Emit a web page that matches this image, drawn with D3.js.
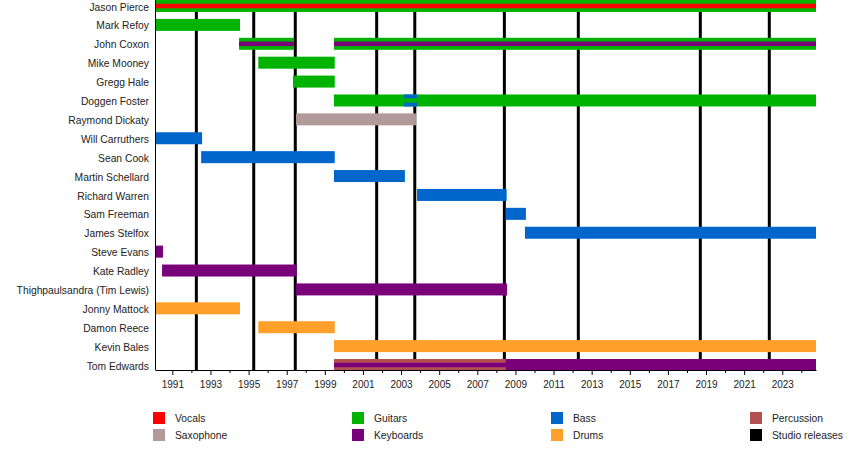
<!DOCTYPE html>
<html>
<head>
<meta charset="utf-8">
<script src="https://cdn.jsdelivr.net/npm/d3@7"></script>
<style>
  html, body { margin: 0; padding: 0; background: #fff; }
  svg { display: block; font-family: "Liberation Sans", Arial, sans-serif; }
</style>
</head>
<body>
<svg id="chart" width="850" height="450"></svg>
<script>
// ---------- DATA ----------
const members = [
  "Jason Pierce", "Mark Refoy", "John Coxon", "Mike Mooney", "Gregg Hale",
  "Doggen Foster", "Raymond Dickaty", "Will Carruthers", "Sean Cook",
  "Martin Schellard", "Richard Warren", "Sam Freeman", "James Stelfox",
  "Steve Evans", "Kate Radley", "Thighpaulsandra (Tim Lewis)", "Jonny Mattock",
  "Damon Reece", "Kevin Bales", "Tom Edwards"
];
const legendItems = ["Vocals", "Saxophone", "Guitars", "Keyboards", "Bass", "Drums", "Percussion", "Studio releases"];
const timelineStart = 1990.09;
const timelineEnd = 2024.77;
// [member, role, start, end] (decimal years)
const mainBars = [
  ["Jason Pierce", "Guitars", 1990.09, 2024.77],
  ["Mark Refoy", "Guitars", 1990.09, 1994.55],
  ["John Coxon", "Guitars", 1994.50, 1997.38],
  ["John Coxon", "Guitars", 1999.48, 2024.77],
  ["Mike Mooney", "Guitars", 1995.51, 1999.52],
  ["Gregg Hale", "Guitars", 1997.33, 1999.52],
  ["Doggen Foster", "Guitars", 1999.48, 2024.77],
  ["Doggen Foster", "Bass", 2003.15, 2003.85],
  ["Raymond Dickaty", "Saxophone", 1997.49, 2003.78],
  ["Will Carruthers", "Bass", 1990.09, 1992.56],
  ["Sean Cook", "Bass", 1992.51, 1999.52],
  ["Martin Schellard", "Bass", 1999.48, 2003.20],
  ["Richard Warren", "Bass", 2003.84, 2008.54],
  ["Sam Freeman", "Bass", 2008.49, 2009.55],
  ["James Stelfox", "Bass", 2009.50, 2024.77],
  ["Steve Evans", "Keyboards", 1990.09, 1990.51],
  ["Kate Radley", "Keyboards", 1990.46, 1997.52],
  ["Thighpaulsandra (Tim Lewis)", "Keyboards", 1997.47, 2008.56],
  ["Jonny Mattock", "Drums", 1990.09, 1994.55],
  ["Damon Reece", "Drums", 1995.51, 1999.52],
  ["Kevin Bales", "Drums", 1999.48, 2024.77],
  ["Tom Edwards", "Percussion", 1999.48, 2008.50],
  ["Tom Edwards", "Keyboards", 2008.50, 2024.77]
];
// secondary roles, drawn as thin stripes inside the main bar
const stripeBars = [
  ["Jason Pierce", "Vocals", 1990.09, 2024.77],
  ["John Coxon", "Keyboards", 1994.50, 1997.38],
  ["John Coxon", "Keyboards", 1999.48, 2024.77],
  ["Doggen Foster", "Guitars", 2003.15, 2003.85],
  ["Tom Edwards", "Keyboards", 1999.48, 2008.50]
];
// studio albums release dates
const studioReleases = [1992.26, 1995.27, 1997.45, 2001.72, 2003.72, 2008.42, 2012.30, 2018.70, 2022.32];
const yearTicks = d3.range(1991, 2025);

// ---------- STYLE ----------
const colors = {
  "Vocals": "#ff0000",
  "Saxophone": "#b39a9a",
  "Guitars": "#00b300",
  "Keyboards": "#7a007a",
  "Bass": "#0066cc",
  "Drums": "#ffa02a",
  "Percussion": "#b35050",
  "Studio releases": "#000000"
};
const textColor = "#222";
const fontSize = 10.3;

const svg = d3.select("#chart");
const plotLeft = 155, plotRight = 816, plotTop = 0, plotBottom = 370;

const x = d3.scaleLinear().domain([timelineStart, timelineEnd]).range([plotLeft, plotRight]);
const y = d3.scalePoint().domain(members).range([6, 365]);
const barH = 12, stripeH = 4.5;

// studio release lines (behind bars)
svg.append("g").selectAll("line").data(studioReleases).join("line")
  .attr("x1", d => x(d)).attr("x2", d => x(d))
  .attr("y1", plotTop).attr("y2", plotBottom)
  .attr("stroke", colors["Studio releases"]).attr("stroke-width", 3);

// main bars
svg.append("g").selectAll("rect").data(mainBars).join("rect")
  .attr("x", d => x(d[2]))
  .attr("width", d => x(d[3]) - x(d[2]))
  .attr("y", d => y(d[0]) - barH / 2)
  .attr("height", barH)
  .attr("fill", d => colors[d[1]]);

// stripes
svg.append("g").selectAll("rect").data(stripeBars).join("rect")
  .attr("x", d => x(d[2]))
  .attr("width", d => x(d[3]) - x(d[2]))
  .attr("y", d => y(d[0]) - stripeH / 2)
  .attr("height", stripeH)
  .attr("fill", d => colors[d[1]]);

// member labels
svg.append("g").selectAll("text").data(members).join("text")
  .attr("x", 149)
  .attr("y", d => y(d) + 1)
  .attr("dy", "0.35em")
  .attr("text-anchor", "end")
  .attr("font-size", fontSize)
  .attr("fill", textColor)
  .text(d => d);

// left axis line
svg.append("line")
  .attr("x1", plotLeft + 0.5).attr("x2", plotLeft + 0.5)
  .attr("y1", plotTop).attr("y2", plotBottom)
  .attr("stroke", "#000").attr("stroke-width", 1);

// bottom axis: minor ticks (even years) and major labelled ticks (odd years)
const minorAxis = d3.axisBottom(x)
  .tickValues(yearTicks.filter(v => v % 2 === 0))
  .tickSize(3).tickSizeOuter(0).tickFormat("");
const majorAxis = d3.axisBottom(x)
  .tickValues(yearTicks.filter(v => v % 2 === 1))
  .tickSize(5).tickSizeOuter(0).tickPadding(6).tickFormat(d3.format("d"));

const gMinor = svg.append("g").attr("transform", `translate(0,${plotBottom})`).call(minorAxis);
const gMajor = svg.append("g").attr("transform", `translate(0,${plotBottom})`).call(majorAxis);
gMinor.select(".domain").remove();
[gMinor, gMajor].forEach(g => {
  g.selectAll(".tick line").attr("stroke", "#000");
});
gMajor.select(".domain").attr("stroke", "#000");
gMajor.selectAll(".tick text")
  .attr("font-size", fontSize - 0.3)
  .attr("font-family", "Liberation Sans, Arial, sans-serif")
  .attr("fill", textColor);

// legend
const legendCols = [153, 352, 551, 750];
const legendRows = [412, 429];
const lg = svg.append("g").selectAll("g").data(legendItems).join("g")
  .attr("transform", (d, i) => `translate(${legendCols[Math.floor(i / 2)]},${legendRows[i % 2]})`);
lg.append("rect").attr("width", 12).attr("height", 12).attr("fill", d => colors[d]);
lg.append("text")
  .attr("x", 22).attr("y", 6.5).attr("dy", "0.35em")
  .attr("font-size", fontSize)
  .attr("fill", textColor)
  .text(d => d);
</script>
</body>
</html>
